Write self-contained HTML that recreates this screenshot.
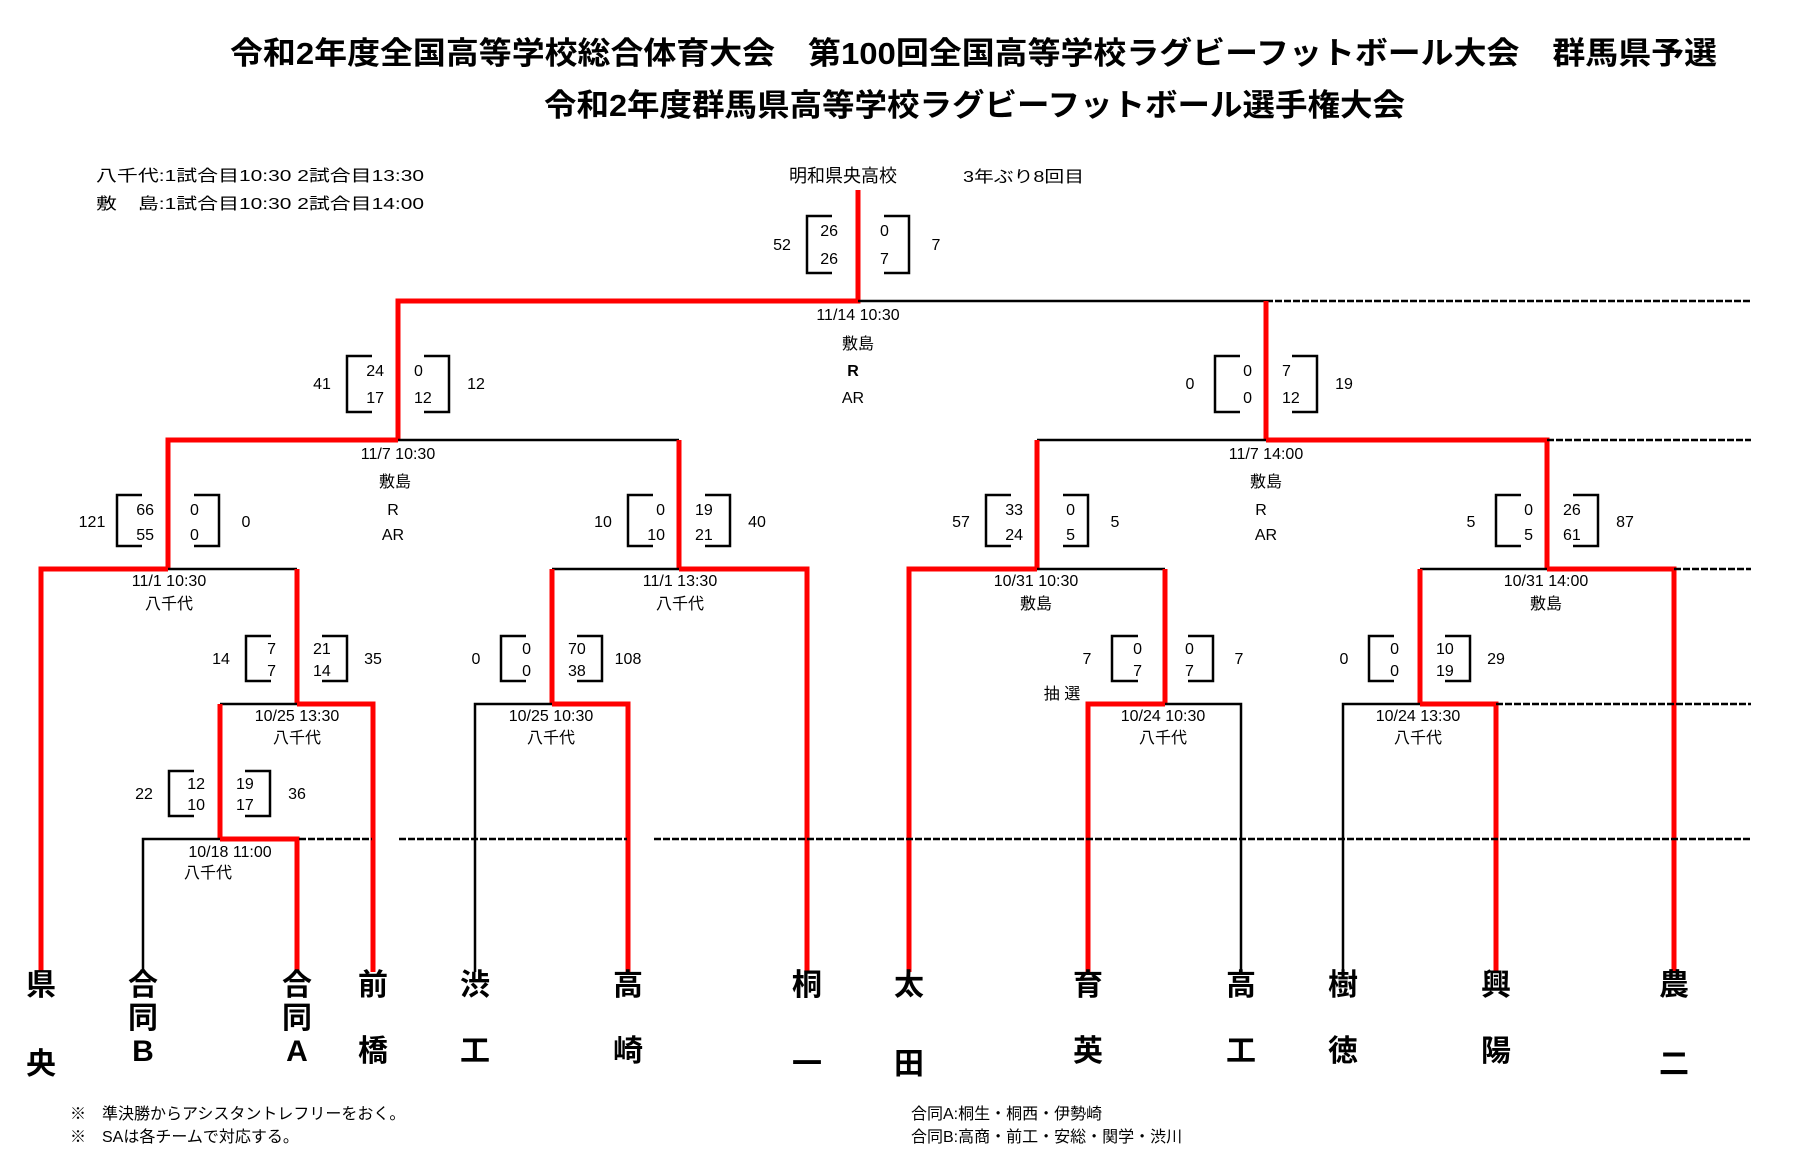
<!DOCTYPE html>
<html><head><meta charset="utf-8">
<style>
html,body{margin:0;padding:0;background:#fff;}
svg{display:block;}
text{font-family:"Liberation Sans","Noto Sans CJK JP",sans-serif;fill:#000;}
.t{font-size:31px;font-weight:bold;}
.s{font-size:16px;}
.n{font-size:30px;font-weight:bold;}
.r{stroke:#ff0000;stroke-width:5;fill:none;}
.k{stroke:#000;stroke-width:2.5;fill:none;}
.d{stroke:#000;stroke-width:2.5;fill:none;stroke-dasharray:7 2;}
.b{stroke:#000;stroke-width:2.5;fill:none;}
</style></head>
<body>
<svg width="1801" height="1175" viewBox="0 0 1801 1175" xmlns="http://www.w3.org/2000/svg">
<!-- titles -->
<text class="t" x="230" y="64" textLength="1487" lengthAdjust="spacingAndGlyphs">令和2年度全国高等学校総合体育大会　第100回全国高等学校ラグビーフットボール大会　群馬県予選</text>
<text class="t" x="544" y="116" textLength="861" lengthAdjust="spacingAndGlyphs">令和2年度群馬県高等学校ラグビーフットボール選手権大会</text>
<!-- notes -->
<text class="s" x="96" y="181" textLength="328" lengthAdjust="spacingAndGlyphs">八千代:1試合目10:30  2試合目13:30</text>
<text class="s" x="96" y="209" textLength="328" lengthAdjust="spacingAndGlyphs">敷　島:1試合目10:30  2試合目14:00</text>
<text class="s" x="789" y="182" style="font-size:18px">明和県央高校</text>
<text class="s" x="963" y="182" textLength="121" lengthAdjust="spacingAndGlyphs">3年ぶり8回目</text>

<!-- final -->
<path class="r" d="M858 190 V301 H398 V440"/>
<path class="k" d="M858 301 H1266"/>
<path class="d" d="M1266 301 H1751"/>
<path class="r" d="M1266 301 V440"/>
<!-- semis -->
<path class="r" d="M398 440 H168 V569"/>
<path class="k" d="M398 440 H679"/>
<path class="r" d="M679 440 V569"/>
<path class="k" d="M1037 440 H1266"/>
<path class="r" d="M1037 440 V569"/>
<path class="r" d="M1266 440 H1547 V569"/>
<path class="d" d="M1547 440 H1751"/>
<!-- QF level y569 -->
<path class="r" d="M168 569 H41 V972"/>
<path class="k" d="M168 569 H297"/>
<path class="r" d="M297 569 V704"/>
<path class="k" d="M552 569 H679"/>
<path class="r" d="M679 569 H807 V972"/>
<path class="r" d="M552 569 V704"/>
<path class="r" d="M1037 569 H909 V972"/>
<path class="k" d="M1037 569 H1165"/>
<path class="r" d="M1165 569 V704"/>
<path class="k" d="M1420 569 H1547"/>
<path class="r" d="M1547 569 H1674 V972"/>
<path class="r" d="M1420 569 V704"/>
<path class="d" d="M1674 569 H1751"/>
<!-- R2 y704 -->
<path class="k" d="M220 704 H297"/>
<path class="r" d="M297 704 H373 V972"/>
<path class="r" d="M220 704 V839"/>
<path class="k" d="M552 704 H475 V972"/>
<path class="r" d="M552 704 H628 V972"/>
<path class="r" d="M1165 704 H1088 V972"/>
<path class="k" d="M1165 704 H1241 V972"/>
<path class="k" d="M1420 704 H1343 V972"/>
<path class="r" d="M1420 704 H1496 V972"/>
<path class="d" d="M1496 704 H1751"/>
<!-- R1 y839 -->
<path class="k" d="M220 839 H143 V972"/>
<path class="r" d="M220 839 H297 V972"/>
<path class="d" d="M299 839 H372"/>
<path class="d" d="M399 839 H627"/>
<path class="d" d="M654 839 H1751"/>

<!-- score boxes -->
<g class="s">
<!-- final xc 858 -->
<path class="b" d="M832 216 H807 V273 H832 M884 216 H909 V273 H884"/>
<text x="838" y="236" text-anchor="end">26</text><text x="838" y="264" text-anchor="end">26</text>
<text x="880" y="236">0</text><text x="880" y="264">7</text>
<text x="782" y="250" text-anchor="middle">52</text><text x="936" y="250" text-anchor="middle">7</text>
<text x="858" y="320" text-anchor="middle">11/14  10:30</text>
<text x="858" y="349" text-anchor="middle">敷島</text>
<text x="853" y="376" text-anchor="middle" font-weight="bold">R</text>
<text x="853" y="403" text-anchor="middle">AR</text>

<!-- SF1 xc 398 -->
<path class="b" d="M372 356 H347 V412 H372 M424 356 H449 V412 H424"/>
<text x="384" y="376" text-anchor="end">24</text><text x="384" y="403" text-anchor="end">17</text>
<text x="414" y="376">0</text><text x="414" y="403">12</text>
<text x="322" y="389" text-anchor="middle">41</text><text x="476" y="389" text-anchor="middle">12</text>
<text x="398" y="459" text-anchor="middle">11/7  10:30</text>
<text x="395" y="487" text-anchor="middle">敷島</text>
<text x="393" y="515" text-anchor="middle">R</text>
<text x="393" y="540" text-anchor="middle">AR</text>

<!-- SF2 xc 1266 -->
<path class="b" d="M1240 356 H1215 V412 H1240 M1292 356 H1317 V412 H1292"/>
<text x="1252" y="376" text-anchor="end">0</text><text x="1252" y="403" text-anchor="end">0</text>
<text x="1282" y="376">7</text><text x="1282" y="403">12</text>
<text x="1190" y="389" text-anchor="middle">0</text><text x="1344" y="389" text-anchor="middle">19</text>
<text x="1266" y="459" text-anchor="middle">11/7 14:00</text>
<text x="1266" y="487" text-anchor="middle">敷島</text>
<text x="1261" y="515" text-anchor="middle">R</text>
<text x="1266" y="540" text-anchor="middle">AR</text>

<!-- QF1 xc 168 -->
<path class="b" d="M142 495 H117 V546 H142 M194 495 H219 V546 H194"/>
<text x="154" y="515" text-anchor="end">66</text><text x="154" y="540" text-anchor="end">55</text>
<text x="190" y="515">0</text><text x="190" y="540">0</text>
<text x="92" y="527" text-anchor="middle">121</text><text x="246" y="527" text-anchor="middle">0</text>
<text x="169" y="586" text-anchor="middle">11/1  10:30</text>
<text x="169" y="609" text-anchor="middle">八千代</text>

<!-- QF2 xc 679 -->
<path class="b" d="M653 495 H628 V546 H653 M705 495 H730 V546 H705"/>
<text x="665" y="515" text-anchor="end">0</text><text x="665" y="540" text-anchor="end">10</text>
<text x="695" y="515">19</text><text x="695" y="540">21</text>
<text x="603" y="527" text-anchor="middle">10</text><text x="757" y="527" text-anchor="middle">40</text>
<text x="680" y="586" text-anchor="middle">11/1  13:30</text>
<text x="680" y="609" text-anchor="middle">八千代</text>

<!-- QF3 xc 1037 -->
<path class="b" d="M1011 495 H986 V546 H1011 M1063 495 H1088 V546 H1063"/>
<text x="1023" y="515" text-anchor="end">33</text><text x="1023" y="540" text-anchor="end">24</text>
<text x="1075" y="515" text-anchor="end">0</text><text x="1075" y="540" text-anchor="end">5</text>
<text x="961" y="527" text-anchor="middle">57</text><text x="1115" y="527" text-anchor="middle">5</text>
<text x="1036" y="586" text-anchor="middle">10/31  10:30</text>
<text x="1036" y="609" text-anchor="middle">敷島</text>

<!-- QF4 xc 1547 -->
<path class="b" d="M1521 495 H1496 V546 H1521 M1573 495 H1598 V546 H1573"/>
<text x="1533" y="515" text-anchor="end">0</text><text x="1533" y="540" text-anchor="end">5</text>
<text x="1563" y="515">26</text><text x="1563" y="540">61</text>
<text x="1471" y="527" text-anchor="middle">5</text><text x="1625" y="527" text-anchor="middle">87</text>
<text x="1546" y="586" text-anchor="middle">10/31  14:00</text>
<text x="1546" y="609" text-anchor="middle">敷島</text>

<!-- R2 xc 297 -->
<path class="b" d="M271 636 H246 V681 H271 M322 636 H347 V681 H322"/>
<text x="276" y="654" text-anchor="end">7</text><text x="276" y="676" text-anchor="end">7</text>
<text x="313" y="654">21</text><text x="313" y="676">14</text>
<text x="221" y="664" text-anchor="middle">14</text><text x="373" y="664" text-anchor="middle">35</text>
<text x="297" y="721" text-anchor="middle">10/25  13:30</text>
<text x="297" y="743" text-anchor="middle">八千代</text>

<!-- R2 xc 552 -->
<path class="b" d="M526 636 H501 V681 H526 M577 636 H602 V681 H577"/>
<text x="531" y="654" text-anchor="end">0</text><text x="531" y="676" text-anchor="end">0</text>
<text x="568" y="654">70</text><text x="568" y="676">38</text>
<text x="476" y="664" text-anchor="middle">0</text><text x="628" y="664" text-anchor="middle">108</text>
<text x="551" y="721" text-anchor="middle">10/25  10:30</text>
<text x="551" y="743" text-anchor="middle">八千代</text>

<!-- R2 xc 1163 -->
<path class="b" d="M1138 636 H1112 V681 H1138 M1188 636 H1213 V681 H1188"/>
<text x="1142" y="654" text-anchor="end">0</text><text x="1142" y="676" text-anchor="end">7</text>
<text x="1185" y="654">0</text><text x="1185" y="676">7</text>
<text x="1087" y="664" text-anchor="middle">7</text><text x="1239" y="664" text-anchor="middle">7</text>
<text x="1062" y="699" text-anchor="middle">抽 選</text>
<text x="1163" y="721" text-anchor="middle">10/24  10:30</text>
<text x="1163" y="743" text-anchor="middle">八千代</text>

<!-- R2 xc 1420 -->
<path class="b" d="M1394 636 H1369 V681 H1394 M1445 636 H1470 V681 H1445"/>
<text x="1399" y="654" text-anchor="end">0</text><text x="1399" y="676" text-anchor="end">0</text>
<text x="1436" y="654">10</text><text x="1436" y="676">19</text>
<text x="1344" y="664" text-anchor="middle">0</text><text x="1496" y="664" text-anchor="middle">29</text>
<text x="1418" y="721" text-anchor="middle">10/24  13:30</text>
<text x="1418" y="743" text-anchor="middle">八千代</text>

<!-- R1 xc 220 -->
<path class="b" d="M194 771 H169 V816 H194 M245 771 H270 V816 H245"/>
<text x="205" y="789" text-anchor="end">12</text><text x="205" y="810" text-anchor="end">10</text>
<text x="236" y="789">19</text><text x="236" y="810">17</text>
<text x="144" y="799" text-anchor="middle">22</text><text x="297" y="799" text-anchor="middle">36</text>
<text x="230" y="857" text-anchor="middle">10/18 11:00</text>
<text x="208" y="878" text-anchor="middle">八千代</text>
</g>

<!-- team names -->
<g class="n" text-anchor="middle">
<text x="41" y="995">県</text><text x="41" y="1074">央</text>
<text x="143" y="995">合</text><text x="143" y="1028">同</text><text x="143" y="1061">B</text>
<text x="297" y="995">合</text><text x="297" y="1028">同</text><text x="297" y="1061">A</text>
<text x="373" y="995">前</text><text x="373" y="1061">橋</text>
<text x="475" y="995">渋</text><text x="475" y="1061">工</text>
<text x="628" y="995">高</text><text x="628" y="1061">崎</text>
<text x="807" y="995">桐</text><text x="807" y="1074">一</text>
<text x="909" y="995">太</text><text x="909" y="1074">田</text>
<text x="1088" y="995">育</text><text x="1088" y="1061">英</text>
<text x="1241" y="995">高</text><text x="1241" y="1061">工</text>
<text x="1343" y="995">樹</text><text x="1343" y="1061">徳</text>
<text x="1496" y="995">興</text><text x="1496" y="1061">陽</text>
<text x="1674" y="995">農</text><text x="1674" y="1074">二</text>
</g>

<!-- footnotes -->
<text class="s" x="70" y="1119">※　準決勝からアシスタントレフリーをおく。</text>
<text class="s" x="70" y="1142">※　SAは各チームで対応する。</text>
<text class="s" x="911" y="1119">合同A:桐生・桐西・伊勢崎</text>
<text class="s" x="911" y="1142">合同B:高商・前工・安総・関学・渋川</text>
</svg>
</body></html>
